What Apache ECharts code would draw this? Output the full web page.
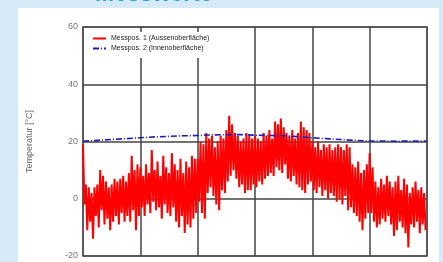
<!DOCTYPE html>
<html>
<head>
<meta charset="utf-8">
<script src="https://cdn.jsdelivr.net/npm/echarts@6/dist/echarts.min.js"></script>
<style>
html,body{margin:0;padding:0;background:#d6eaf8;}
#c{width:443px;height:262px;}
</style>
</head>
<body>
<div id="c"></div>
<script>
const titleText = 'Messwerte';
const yAxisName = 'Temperatur [°C]';
const seriesNames = ['Messpos. 1 (Aussenoberfläche)', 'Messpos. 2 (Innenoberfläche)'];
const yTicks = [-20, 0, 20, 40, 60];
const xMax = 240;
const xStep = 40;

// Messpos. 1 – outer surface, dense readings
const outerTemp = [
 19,-2,5,-11,4,-8,2,-14,4,-6,5,-10,10,-4,8,-9,6,-7,4,-11,5,-8,7,-6,6,-9,7,-5,8,-8,6,-6,9,-8,15,-4,10,-11,12,-6,
 11,-3,8,-6,12,-2,9,-5,17,-1,10,-4,13,-3,8,-7,15,-2,11,-5,9,-6,16,-3,12,-8,10,-10,14,-6,9,-12,13,-9,11,-10,15,-7,14,-5,
 14,-1,20,-5,19,-7,23,2,21,4,22,1,18,-2,20,-4,22,3,21,2,24,6,29,8,26,10,23,7,22,4,20,5,21,2,23,3,22,3,21,5,
 22,4,21,6,20,5,23,7,22,8,24,9,21,8,27,11,26,10,28,9,25,12,23,7,22,6,24,8,21,5,23,4,27,3,25,2,24,5,23,6,
 20,3,18,2,20,4,17,1,19,3,18,0,19,2,17,1,18,-1,19,0,18,-2,17,1,19,-4,18,-3,12,-5,11,-6,13,-8,9,-11,10,-7,12,-5,
 16,-5,11,-8,6,-10,4,-9,7,-7,5,-8,8,-6,6,-9,4,-13,6,-11,8,-8,3,-10,7,-12,5,-17,2,-9,4,-10,6,-8,3,-12,4,-9,2,-11
];
// Messpos. 2 – inner surface, one value every 10 steps
const innerStep = 10;
const innerTemp = [20.1,20.4,20.7,21.0,21.3,21.6,21.8,22.0,22.1,22.3,22.4,22.4,22.2,22.1,22.0,21.7,21.3,21.0,20.7,20.4,20.2,20.2,20.1,20.2,20.2];

const chart = echarts.init(document.getElementById('c'));
chart.setOption({
  animation: false,
  backgroundColor: '#d6eaf8',
  graphic: [
    {type:'rect', shape:{x:18, y:8, width:421, height:260}, style:{fill:'#ffffff'}, z:-10},
    {type:'text', x:95, y:-17, style:{text:titleText, font:'bold 23px Arial', fill:'#1e9be9'}, z:10}
  ],
  grid: {left:83, right:16, top:27, bottom:6, show:true, borderColor:'#9a9a9a', borderWidth:2, backgroundColor:'transparent'},
  legend: {
    left: 84, top: 32, orient:'vertical', itemGap: 3, itemWidth: 13, itemHeight: 6,
    backgroundColor:'#ffffff', padding:[3,12,6,8],
    textStyle:{fontSize:7, color:'#222', fontFamily:'Arial'},
    itemStyle:{opacity:0},
    data: seriesNames
  },
  xAxis: {
    type:'value', min:0, max:xMax, interval:xStep,
    axisLabel:{show:false}, axisTick:{show:false}, axisLine:{show:false},
    splitLine:{show:true, lineStyle:{color:'#454545', width:1.5}}
  },
  yAxis: {
    type:'value', min:yTicks[0], max:yTicks[yTicks.length-1], interval:20,
    name: yAxisName, nameLocation:'middle', nameGap:49,
    nameTextStyle:{fontSize:9, color:'#666', fontFamily:'Arial'},
    axisLabel:{fontSize:9, color:'#777', fontFamily:'Arial', margin:5},
    axisTick:{show:false}, axisLine:{show:false},
    splitLine:{show:true, lineStyle:{color:'#454545', width:1.5}}
  },
  series: [
    {name:seriesNames[0], type:'line', showSymbol:false, symbol:'none', z:3,
     lineStyle:{color:'#ff0000', width:2}, itemStyle:{color:'#ff0000'},
     data: outerTemp.map((v,i)=>[i,v])},
    {name:seriesNames[1], type:'line', showSymbol:false, symbol:'none', z:4,
     lineStyle:{color:'#1c1cb8', width:1.6, type:[6,2,1,2]}, itemStyle:{color:'#1c1cb8'},
     data: innerTemp.map((v,i)=>[i*innerStep,v])}
  ]
});
</script>
</body>
</html>
